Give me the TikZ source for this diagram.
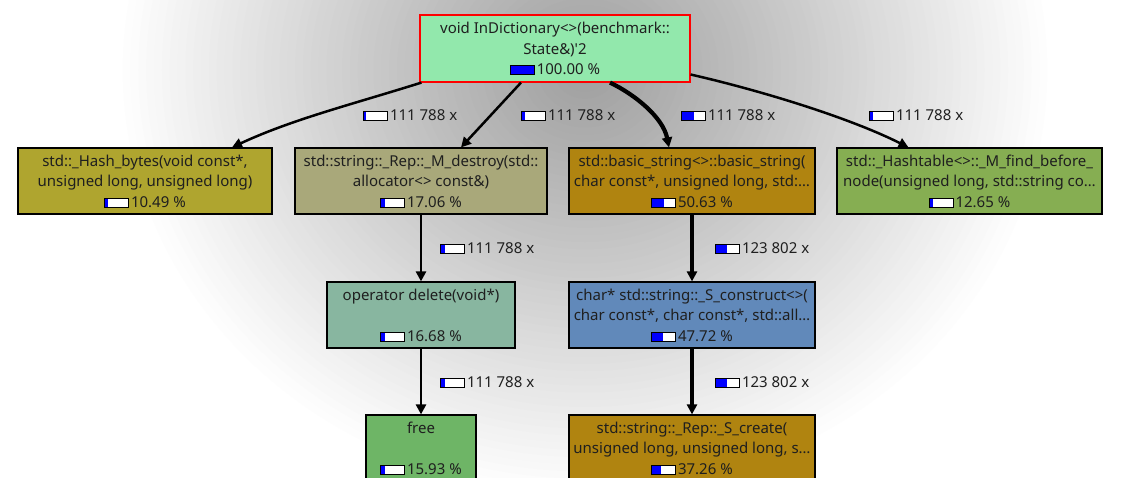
\documentclass[tikz,border=0pt]{standalone}
\usepackage{fontspec}
\setmainfont{Noto Sans}[Ligatures=TeXOff]
\usetikzlibrary{arrows.meta,calc}
\newlength\barw \setlength\barw{23pt}
\newcommand\pbar[1]{{\setlength\fboxsep{0pt}\setlength\fboxrule{0.9pt}\raisebox{0.3pt}{\fcolorbox{black}{white}{\makebox[\barw][l]{\textcolor{blue}{\rule{#1\barw}{8.2pt}}}}}}\hspace{2pt}}
\definecolor{cRoot}{HTML}{92E8AC}
\definecolor{cA}{HTML}{AFA52F}
\definecolor{cB}{HTML}{A9A87A}
\definecolor{cC}{HTML}{B08410}
\definecolor{cD}{HTML}{86AE52}
\definecolor{cE}{HTML}{88B6A0}
\definecolor{cF}{HTML}{6189BA}
\definecolor{cG}{HTML}{6EB566}
\tikzset{
  fn/.style={draw=black, line width=1.2pt, minimum height=66pt, inner sep=0pt, align=center,
    font=\fontsize{15}{20.5}\selectfont, text=black!88, text depth=0pt},
  call/.style={-{Triangle[length=10pt,width=10pt]}, line width=2.5pt},
  lbl/.style={anchor=west, inner sep=0pt, font=\fontsize{15}{18}\selectfont, text=black!88}
}
\begin{document}
\begin{tikzpicture}[x=1pt,y=-1pt]
\useasboundingbox (0,0) rectangle (1122,478);
\clip (0,0) rectangle (1122,478);
\fill[white] (0,0) rectangle (1122,478);
\foreach \i in {0,...,60}{
  \pgfmathsetmacro\rr{1-\i/60}
  \pgfmathsetmacro\pct{\rr<0.36 ? 38-13*\rr/0.36 : 25*(1-\rr)/0.64}
  \fill[black!\pct] (585,70) ellipse [x radius=470pt*\rr, y radius=430pt*\rr];
}

\node[fn, fill=cRoot, draw=red, minimum width=270pt, minimum height=67pt] (root) at (555,48.5)
  {void InDictionary<>(benchmark::\\State\&)'2\\\pbar{1}100.00 \%};

\node[fn, fill=cA, minimum width=254pt] (A) at (145,181)
  {std::\_Hash\_bytes(void const*,\\unsigned long, unsigned long)\\\pbar{0.1049}10.49 \%};
\node[fn, fill=cB, minimum width=252pt] (B) at (421,181)
  {std::string::\_Rep::\_M\_destroy(std::\\allocator<> const\&)\\\pbar{0.1706}17.06 \%};
\node[fn, fill=cC, minimum width=246pt] (C) at (692,181)
  {std::basic\_string<>::basic\_string(\\char const*, unsigned long, std:…\\\pbar{0.5063}50.63 \%};
\node[fn, fill=cD, minimum width=265pt] (D) at (969.5,181)
  {std::\_Hashtable<>::\_M\_find\_before\_\\node(unsigned long, std::string co…\\\pbar{0.1265}12.65 \%};

\node[fn, fill=cE, minimum width=188pt] (E) at (421,315)
  {operator delete(void*)\\\mbox{}\\\pbar{0.1668}16.68 \%};
\node[fn, fill=cF, minimum width=246pt] (F) at (692,315)
  {char* std::string::\_S\_construct<>(\\char const*, char const*, std::all…\\\pbar{0.4772}47.72 \%};

\node[fn, fill=cG, minimum width=110pt] (G) at (421,448)
  {free\\\mbox{}\\\pbar{0.1593}15.93 \%};
\node[fn, fill=cC, minimum width=246pt] (H) at (692,448)
  {std::string::\_Rep::\_S\_create(\\unsigned long, unsigned long, s…\\\pbar{0.3726}37.26 \%};

\draw[call] ($(root.south west)+(2,0)$) .. controls +(-70,22) and +(60,-28) .. ($(A.north)+(87,0)$);
\draw[call] ($(root.south)+(-34,0)$) -- ($(B.north)+(40,0)$);
\draw[call, line width=4.2pt] ($(root.south)+(55,0)$) .. controls +(25,12) and +(-6,-30) .. ($(C.north)+(-23,0)$);
\draw[call] ($(root.east)+(0,26)$) .. controls +(70,16) and +(-60,-30) .. ($(D.north)+(-61,0)$);

\draw[call, line width=2.8pt] (B.south) -- (E.north);
\draw[call, line width=3.8pt] (C.south) -- (F.north);
\draw[call, line width=2.8pt] (E.south) -- (G.north);
\draw[call, line width=3.4pt] (F.south) -- (H.north);

\node[lbl] (l1) at (363,115.5) {\pbar{0.10}111 788 x};
\node[lbl] (l2) at (521,115.5) {\pbar{0.12}111 788 x};
\node[lbl] (l3) at (681,115.5) {\pbar{0.5}111 788 x};
\node[lbl] (l4) at (869,115.5) {\pbar{0.12}111 788 x};
\node[lbl] (l5) at (440,248.5) {\pbar{0.15}111 788 x};
\node[lbl] (l6) at (715,248.5) {\pbar{0.48}123 802 x};
\node[lbl] (l7) at (440,382.5) {\pbar{0.15}111 788 x};
\node[lbl] (l8) at (715,382.5) {\pbar{0.48}123 802 x};
\end{tikzpicture}
\end{document}
